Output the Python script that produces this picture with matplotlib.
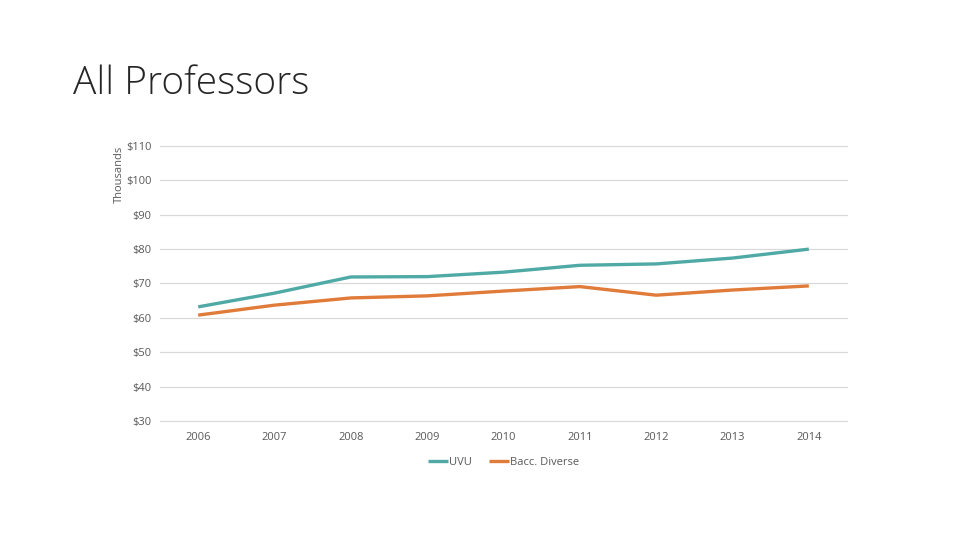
import matplotlib.pyplot as plt

years = ['2006', '2007', '2008', '2009', '2010', '2011', '2012', '2013', '2014']
uvu = [63.2, 67.2, 71.9, 72.0, 73.3, 75.3, 75.7, 77.4, 80.0]
bacc_diverse = [60.8, 63.7, 65.8, 66.4, 67.8, 69.1, 66.6, 68.1, 69.3]
y_ticks = [30, 40, 50, 60, 70, 80, 90, 100, 110]

plt.rcParams['font.family'] = ['Open Sans', 'DejaVu Sans']

fig = plt.figure(figsize=(9.6, 5.4), dpi=100)
ax = fig.add_axes([0.1667, 0.2204, 0.7156, 0.5092])

x = range(len(years))
ax.plot(x, uvu, color='#4faaa5', lw=2.4, label='UVU', solid_capstyle='butt')
ax.plot(x, bacc_diverse, color='#e07b39', lw=2.4, label='Bacc. Diverse', solid_capstyle='butt')

ax.set_xlim(-0.5, len(years) - 0.5)
ax.set_ylim(30, 110)
ax.set_yticks(y_ticks)
ax.set_yticklabels(['$' + str(v) for v in y_ticks])
ax.set_xticks(list(x))
ax.set_xticklabels(years)
ax.grid(axis='y', color='#d9d9d9', lw=0.9)
for gl in ax.get_ygridlines():
    gl.set_clip_on(False)
ax.set_axisbelow(True)
for s in ax.spines.values():
    s.set_visible(False)
ax.tick_params(length=0, labelsize=8, colors='#595959')
ax.tick_params(axis='y', pad=6)
ax.tick_params(axis='x', pad=8)

fig.text(0.124, 0.73, 'Thousands', rotation=90, ha='center', va='top',
         fontsize=8, color='#595959')
fig.text(0.076, 0.845, 'All Professors', fontsize=28, color='#262626',
         ha='left', va='center', fontweight='light')

ax.legend(loc='upper center', bbox_to_anchor=(0.5, -0.095), ncol=2, frameon=False,
          fontsize=8, labelcolor='#595959', handlelength=1.8, handletextpad=0.1,
          columnspacing=1.5)

fig.savefig('out.png', dpi=100)
